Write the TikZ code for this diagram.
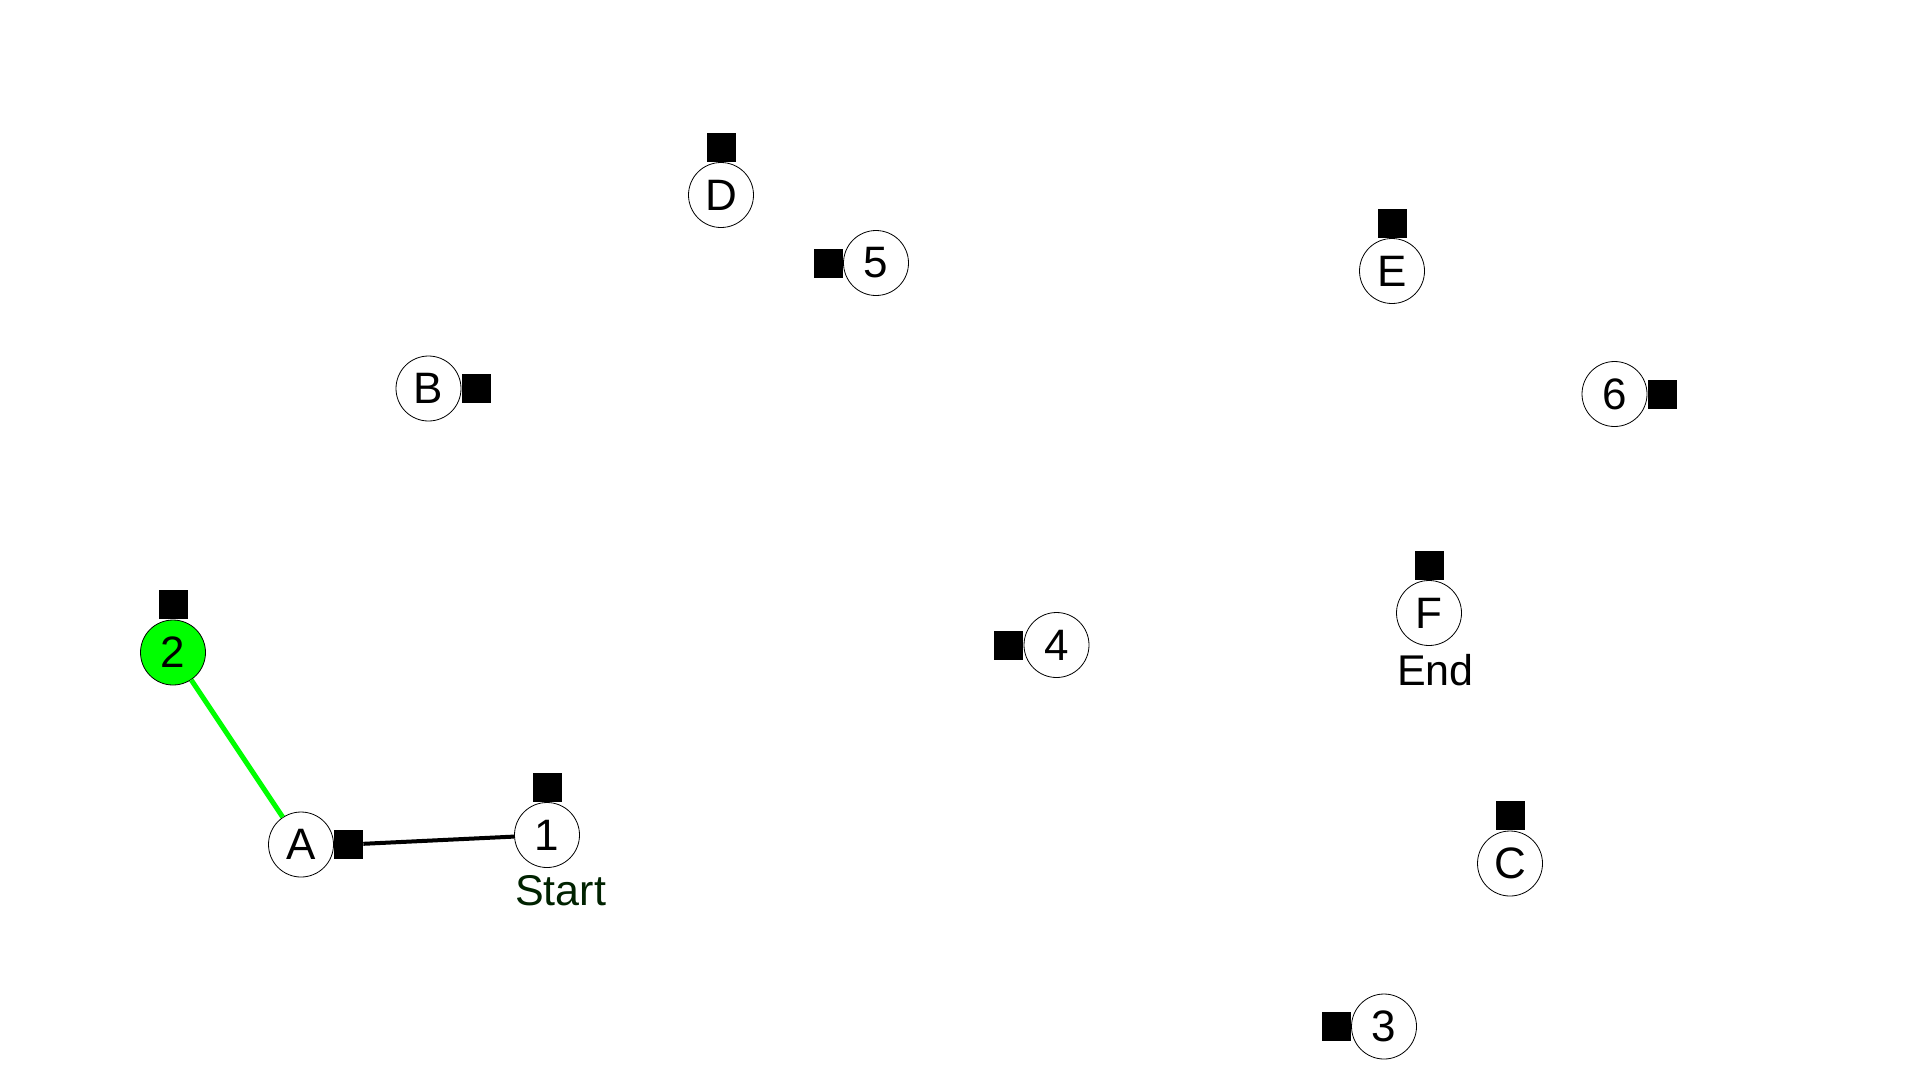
\documentclass[tikz,border=0pt]{standalone}
\usepackage{fontspec}
\setmainfont{Liberation Sans}
\usetikzlibrary{positioning}
\definecolor{startgreen}{RGB}{0,34,0}
\tikzset{
  vtx/.style={circle,draw=black,line width=0.8pt,fill=white,minimum size=65pt,inner sep=0pt,font=\fontsize{44}{48}\selectfont},
  sq/.style={rectangle,fill=black,minimum size=29pt,inner sep=0pt},
  lbl/.style={anchor=base west,inner sep=0pt,font=\fontsize{43}{46}\selectfont},
  greenedge/.style={draw=green,line width=5pt},
  blackedge/.style={draw=black,line width=4pt}
}
\begin{document}
\begin{tikzpicture}[x=1pt,y=-1pt]
\useasboundingbox[fill=white] (0,0) rectangle (1920,1080);
% vertices
\node[vtx] (D) at (721,195) {D};
\node[vtx] (n5) at (876,263) {5};
\node[vtx] (E) at (1392,271) {E};
\node[vtx] (B) at (428.5,388.5) {B};
\node[vtx] (n6) at (1614.5,394) {6};
\node[vtx,fill=green] (n2) at (173,652.5) {2};
\node[vtx] (n4) at (1056.5,645) {4};
\node[vtx] (F) at (1429,613) {F};
\node[vtx] (A) at (301,844.5) {A};
\node[vtx] (n1) at (547,835) {1};
\node[vtx] (C) at (1510,863.5) {C};
\node[vtx] (n3) at (1384,1026.5) {3};
% squares
\node[sq,above=0pt of D.north] (Dsq) {};
\node[sq,left=0pt of n5.west] (n5sq) {};
\node[sq,above=0pt of E.north] (Esq) {};
\node[sq,right=0pt of B.east] (Bsq) {};
\node[sq,right=0pt of n6.east] (n6sq) {};
\node[sq,above=0pt of n2.north] (n2sq) {};
\node[sq,left=0pt of n4.west] (n4sq) {};
\node[sq,above=0pt of F.north] (Fsq) {};
\node[sq,right=0pt of A.east] (Asq) {};
\node[sq,above=0pt of n1.north] (n1sq) {};
\node[sq,above=0pt of C.north] (Csq) {};
\node[sq,left=0pt of n3.west] (n3sq) {};
% labels
\node[lbl,text=startgreen] (startlbl) at ([xshift=1pt,yshift=-38pt]n1.west |- n1.south) {Start};
\node[lbl] (endlbl) at ([xshift=1pt,yshift=-40pt]F.west |- F.south) {End};
% edges
\draw[greenedge] (n2) -- (A);
\draw[blackedge] (Asq) -- (n1);
\end{tikzpicture}
\end{document}
